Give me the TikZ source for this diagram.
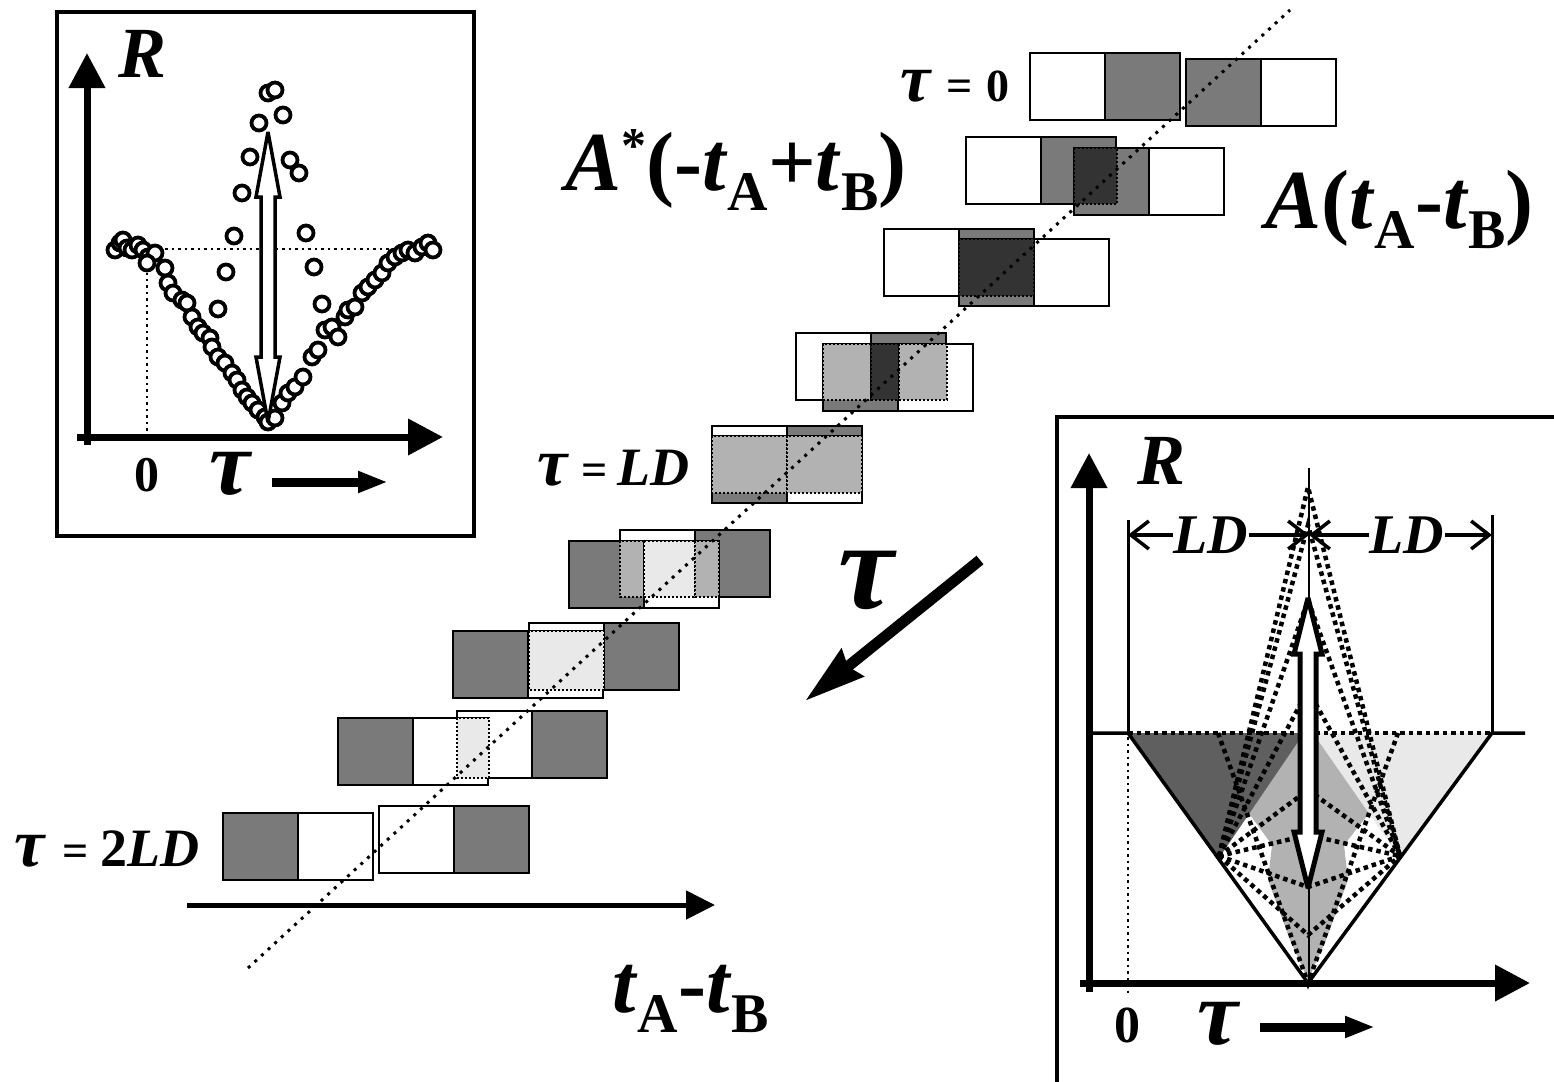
\documentclass[tikz,border=0pt]{standalone}
\usepackage{fontspec}
\setmainfont{Liberation Serif}
\usetikzlibrary{arrows.meta}
\definecolor{pulsegray}{HTML}{7A7A7A}
\definecolor{ovdark}{HTML}{333333}
\definecolor{ovmid}{HTML}{B2B2B2}
\definecolor{ovlight}{HTML}{E9E9E9}
\definecolor{wedgegray}{HTML}{5F5F5F}
\newcommand{\fsz}[1]{\fontsize{#1}{#1}\selectfont}
\newcommand{\subtx}[1]{\raisebox{-20pt}{\fsz{56}\upshape #1}}
\newcommand{\supstar}[1]{\raisebox{28pt}{\fsz{50}\upshape #1}}
% two boxes of one pulse: x, y, left fill, right fill
\newcommand{\pulse}[4]{%
	\filldraw[box, fill=#3] (#1,#2) rectangle ++(75,67);
	\filldraw[box, fill=#4] (#1+75,#2) rectangle ++(75,67);}
% overlap strip: x1, x2, y1, y2, fill
\newcommand{\ovl}[5]{\filldraw[ovbox, fill=#5] (#1,#3) rectangle (#2,#4);}
% hollow double arrow: x, top, bottom, head length, head half width, shaft half width, line width
\newcommand{\hollowarrow}[7]{%
	\filldraw[fill=white, line width=#7, miter limit=4] (#1,#2) -- (#1+#5,#2+#4) -- (#1+#6,#2+#4) -- (#1+#6,#3-#4) -- (#1+#5,#3-#4) -- (#1,#3) -- (#1-#5,#3-#4) -- (#1-#6,#3-#4) -- (#1-#6,#2+#4) -- (#1-#5,#2+#4) -- cycle;}

\begin{document}
\begin{tikzpicture}[x=1pt, y=-1pt,
	box/.style={draw, line width=2pt},
	ovbox/.style={draw, line width=2pt, dash pattern=on 2pt off 2pt},
	lbl/.style={inner sep=0pt, font=\bfseries},
	datapt/.style={draw, line width=3.8pt, fill=white},
	thindots/.style={line width=2.5pt, dash pattern=on 2.5pt off 4pt},
	fan/.style={line width=4.5pt, dash pattern=on 4.5pt off 4pt},
	axis/.style={line width=7pt, -{Triangle[length=35pt, width=35pt]}},
	small/.style={line width=9pt, -{Triangle[length=30pt, width=20pt]}},
	dim/.style={line width=3.5pt, -{Straight Barb[length=18pt, width=28pt]}}]
	\useasboundingbox (0,0) rectangle (1554,1081);

	% pulses, tau = 0 ... 2LD
	\pulse{1030}{53}{white}{pulsegray} \pulse{1186}{59}{pulsegray}{white}
	\pulse{966}{137}{white}{pulsegray} \pulse{1074}{148}{pulsegray}{white}
	\ovl{1074}{1117}{148}{204}{ovdark}
	\pulse{884}{229}{white}{pulsegray} \pulse{959}{239}{pulsegray}{white}
	\ovl{959}{1034}{239}{296}{ovdark}
	\pulse{796}{333}{white}{pulsegray} \pulse{823}{344}{pulsegray}{white}
	\ovl{823}{871}{344}{400}{ovmid} \ovl{871}{899}{344}{400}{ovdark} \ovl{899}{947}{344}{400}{ovmid}
	\pulse{712}{426}{white}{pulsegray} \pulse{712}{436}{pulsegray}{white}
	\ovl{712}{787}{436}{493}{ovmid} \ovl{787}{862}{436}{493}{ovmid}
	\pulse{620}{530}{white}{pulsegray} \pulse{569}{541}{pulsegray}{white}
	\ovl{620}{644}{541}{597}{ovmid} \ovl{644}{695}{541}{597}{ovlight} \ovl{695}{719}{541}{597}{ovmid}
	\pulse{529}{623}{white}{pulsegray} \pulse{453}{631}{pulsegray}{white}
	\ovl{529}{604}{631}{690}{ovlight}
	\pulse{457}{711}{white}{pulsegray} \pulse{338}{718}{pulsegray}{white}
	\ovl{457}{489}{718}{778}{ovlight}
	\pulse{379}{806}{white}{pulsegray} \pulse{223}{813}{pulsegray}{white}
	\draw[line width=3pt, dash pattern=on 3pt off 6pt] (248,968) -- (1290,10);

	\node[lbl, anchor=base east] (tau0) at (1010,101) {{\fsz{68}\itshape τ}\hspace{16pt}{\fsz{46}=\hspace{14pt}0}};
	\node[lbl, anchor=base east] (tauLD) at (690,485) {{\fsz{68}\itshape τ}\hspace{14pt}{\fsz{46}=}\hspace{10pt}{\fsz{54}\itshape LD}};
	\node[lbl, anchor=base east] (tau2LD) at (200,866) {{\fsz{68}\itshape τ}\hspace{18pt}{\fsz{46}=}\hspace{12pt}{\fsz{54}2\itshape LD}};
	\node[lbl, anchor=base west, font=\bfseries\fsz{84}] (Aconj) at (565,190) {\textit{A}\supstar{*}(-\textit{t}\subtx{A}+\textit{t}\subtx{B})};
	\node[lbl, anchor=base west, font=\bfseries\fsz{84}] (Afwd) at (1265,228) {\textit{A}(\textit{t}\subtx{A}-\textit{t}\subtx{B})};
	\node[lbl, anchor=base west, font=\bfseries\fsz{84}] (tdiff) at (612,1012) {\textit{t}\subtx{A}-\textit{t}\subtx{B}};
	\node[lbl, font=\bfseries\itshape\fsz{125}] (bigtau) at (866,580) {τ};
	\coordinate (bigS) at (980,560);
	\coordinate (bigE) at (805,701);
	\draw[line width=11pt, -{Stealth[length=60pt, width=34pt, inset=5pt]}] (bigS) -- (bigE);
	\draw[line width=5pt, -{Triangle[length=29pt, width=28pt]}] (187,905) -- (715,905);

	% left inset: measured R
	\draw[line width=4pt] (57,12) rectangle (474,536);
	\draw[thindots] (147,437) -- (147,273);
	\draw[thindots] (165,249) -- (392,249);
	\foreach \x/\y in {115/250,120/243,123/240,127/248,132/250,138/245,143/250,148/257,155/253,147/263,
		165/268,168/283,173/293,182/300,187/303,192/317,198/327,203/333,210/338,212/347,218/357,225/363,
		232/373,237/380,242/390,247/397,252/403,258/410,265/417,268/422,
		275/418,282/403,288/393,295/387,303/377,312/357,318/350,325/330,332/327,338/337,345/317,348/310,
		355/307,362/293,368/287,375/280,382/273,388/263,395/257,402/253,408/250,415/253,422/247,428/243,433/250,
		268/93,275/90,259/123,283/115,250/157,290/160,299/173,242/193,234/236,306/233,226/272,314/267,218/309,322/304}
		\draw[datapt] (\x,\y) circle[radius=7.5pt];
	\hollowarrow{268}{132}{422}{65}{12}{7}{3.5pt}
	\draw[axis] (87,445) -- (87,53);
	\draw[axis] (77,437) -- (443,437);
	\node[lbl, font=\bfseries\itshape\fsz{72}] (R1) at (143,54) {R};
	\node[lbl, font=\bfseries\fsz{50}] (zero1) at (147,475) {0};
	\node[lbl, font=\bfseries\itshape\fsz{92}] (tau1) at (230,474) {τ};
	\coordinate (tau1E) at (388,482);
	\draw[small] (272,482) -- (tau1E);

	% right inset: model R
	\draw[line width=4pt] (1057,1090) -- (1057,417) -- (1560,417);
	\fill[ovmid] (1302,735) -- (1248,812) -- (1272,845) -- (1268,880) -- (1290,940) -- (1308,980) -- (1326,940) -- (1348,880) -- (1344,845) -- (1370,812) -- (1317,735) -- cycle;
	\fill[wedgegray] (1128,733) -- (1304,733) -- (1219,858) -- cycle;
	\fill[ovlight] (1313,733) -- (1492,733) -- (1400,858) -- cycle;
	\foreach \a in {487,525,600,690,790,835,887,935}
		\draw[fan] (1219,856) -- (1308,\a) -- (1400,856);
	\draw[fan] (1218,733) -- (1308,983) -- (1398,733);
	\draw[fan] (1128,733) -- (1492,733);
	\draw[thindots] (1128,737) -- (1128,993);
	\draw[line width=3.5pt] (1090,733) -- (1128,733) -- (1308,983) -- (1492,733) -- (1525,733);
	\draw[line width=3pt] (1128,520) -- (1128,733);
	\draw[line width=3pt] (1492,515) -- (1492,733);
	\draw[line width=2.5pt] (1309,468) -- (1309,983);
	\hollowarrow{1308}{598}{888}{56}{14}{8}{5pt}
	\draw[axis] (1089,992) -- (1089,453);
	\draw[axis] (1080,983) -- (1530,983);
	\node[lbl, font=\bfseries\itshape\fsz{72}] (R2) at (1161,461) {R};
	\node[lbl, font=\bfseries\fsz{52}] (zero2) at (1127,1025) {0};
	\node[lbl, font=\bfseries\itshape\fsz{92}] (tau2) at (1218,1024) {τ};
	\coordinate (tau2E) at (1375,1027);
	\draw[small] (1260,1027) -- (tau2E);
	\node[lbl, font=\bfseries\itshape\fsz{56}] (ldA) at (1211,535) {LD};
	\node[lbl, font=\bfseries\itshape\fsz{56}] (ldB) at (1407,535) {LD};
	\coordinate (brL) at (1128,535);
	\coordinate (brC) at (1309,535);
	\coordinate (brR) at (1492,535);
	\foreach \a/\b in {ldA/brL, ldA/brC, ldB/brC, ldB/brR}
		\draw[dim] (\a) -- (\b);
\end{tikzpicture}
\end{document}
